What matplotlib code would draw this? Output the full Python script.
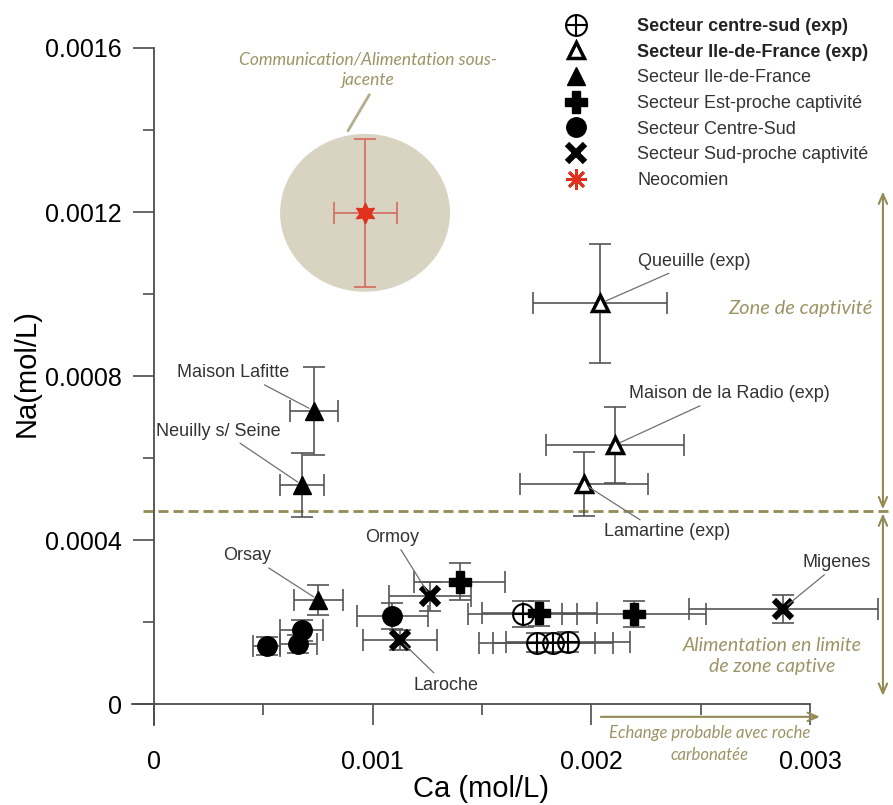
import matplotlib
matplotlib.use('Agg')
import matplotlib.pyplot as plt
from matplotlib.lines import Line2D
from matplotlib.patches import Ellipse
from matplotlib.legend_handler import HandlerTuple

plt.rcParams['font.family'] = ['Liberation Sans', 'DejaVu Sans']

# --- data (mol/L) ---
# Secteur centre-sud (exp)
cs_exp_ca = [0.001686, 0.001752, 0.001826, 0.001894]
cs_exp_na = [0.000220, 0.000150, 0.000150, 0.000152]
cs_exp_ca_err = [0.000250, 0.000264, 0.000274, 0.000284]
cs_exp_na_err = [0.000032, 0.000024, 0.000024, 0.000024]

# Secteur Ile-de-France (exp)
idf_exp_names = ['Queuille (exp)', 'Maison de la Radio (exp)', 'Lamartine (exp)']
idf_exp_ca = [0.002040, 0.002108, 0.001966]
idf_exp_na = [0.000977, 0.000632, 0.000537]
idf_exp_ca_err = [0.000305, 0.000316, 0.000292]
idf_exp_na_err = [0.000146, 0.000092, 0.000078]

# Secteur Ile-de-France
idf_names = ['Maison Lafitte', 'Neuilly s/ Seine', 'Orsay']
idf_ca = [0.000732, 0.000678, 0.000752]
idf_na = [0.000715, 0.000534, 0.000254]
idf_ca_err = [0.000110, 0.000100, 0.000111]
idf_na_err = [0.000107, 0.000078, 0.000037]

# Secteur Est-proche captivite
est_ca = [0.001399, 0.001762, 0.002195]
est_na = [0.000298, 0.000221, 0.000219]
est_ca_err = [0.000208, 0.000264, 0.000329]
est_na_err = [0.000045, 0.000030, 0.000032]

# Secteur Centre-Sud
cs_ca = [0.000515, 0.000675, 0.000660, 0.001090]
cs_na = [0.000142, 0.000180, 0.000146, 0.000215]
cs_ca_err = [0.000061, 0.000100, 0.000085, 0.000162]
cs_na_err = [0.000022, 0.000025, 0.000022, 0.000031]

# Secteur Sud-proche captivite
sud_names = ['Ormoy', 'Laroche', 'Migenes']
sud_ca = [0.001262, 0.001125, 0.002877]
sud_na = [0.000263, 0.000156, 0.000233]
sud_ca_err = [0.000187, 0.000169, 0.000432]
sud_na_err = [0.000036, 0.000024, 0.000034]

# Neocomien
neo_ca = [0.000965]
neo_na = [0.001198]
neo_ca_err = [0.000144]
neo_na_err = [0.000180]

na_limit = 0.00047
zone_top = 0.00125
zone_bottom = 0.00002

x_ticks = [0, 0.001, 0.002, 0.003]
x_ticklabels = ['0', '0.001', '0.002', '0.003']
x_minor = [0.0005, 0.0015, 0.0025]
y_ticks = [0, 0.0004, 0.0008, 0.0012, 0.0016]
y_ticklabels = ['0', '0.0004', '0.0008', '0.0012', '0.0016']
y_minor = [0.0002, 0.0006, 0.0010, 0.0014]

olive = '#948a54'
olive_txt = '#9d9466'
axcol = '#4d4d4d'

fig = plt.figure(figsize=(8.93, 8.05), dpi=100)
ax = fig.add_axes([0, 0, 1, 1])
ax.set_xlim(-0.000704, 0.003379)
ax.set_ylim(-0.000246, 0.001717)

for s in ['top', 'right']:
    ax.spines[s].set_visible(False)
ax.spines['left'].set_position(('data', 0))
ax.spines['bottom'].set_position(('data', 0))
ax.spines['left'].set_bounds(-0.00005, 0.0016)
ax.spines['bottom'].set_bounds(-0.0001, 0.003)
for s in ['left', 'bottom']:
    ax.spines[s].set_color(axcol)
    ax.spines[s].set_linewidth(1.3)

ax.set_xticks(x_ticks, x_ticklabels, fontsize=18)
ax.set_xticks(x_minor, minor=True)
ax.set_yticks(y_ticks, y_ticklabels, fontsize=18)
ax.set_yticks(y_minor, minor=True)
ax.tick_params(which='major', direction='out', length=15, width=1.2, color=axcol)
ax.tick_params(which='minor', direction='out', length=8, width=1.2, color=axcol)
ax.tick_params(axis='x', which='major', pad=18)
ax.tick_params(axis='y', which='major', pad=8)

ax.set_xlabel('Ca (mol/L)', fontsize=21, va='center')
ax.xaxis.set_label_coords(481 / 893, 1 - 789 / 805)
ax.set_ylabel('Na(mol/L)', fontsize=21, va='center')
ax.yaxis.set_label_coords(27 / 893, 1 - 373 / 805)

# Neocomien zone
ax.add_patch(Ellipse((neo_ca[0], neo_na[0]), 0.000777, 0.000385,
                     fc='#d9d4c2', ec='none', zorder=1))
ax.annotate('Communication/Alimentation sous-\njacente',
            xy=(0.000887, 0.001398), xycoords='data',
            xytext=(368 / 893, 1 - 70 / 805), textcoords='axes fraction',
            ha='center', va='center', multialignment='center',
            fontsize=12.5, family='Lato', style='italic', color=olive_txt,
            linespacing=1.35,
            arrowprops=dict(arrowstyle='-', color='#b5ae8e', lw=2,
                            relpos=(0.52, 0), shrinkA=3, shrinkB=0))

# limit line and zone arrows
ax.plot([-0.00005, 0.003379], [na_limit, na_limit], ls=(0, (3.6, 1.8)),
        color=olive, lw=2, zorder=2)
arrow_x = 0.003333
ax.annotate('', xy=(arrow_x, zone_top), xytext=(arrow_x, na_limit + 0.000005),
            arrowprops=dict(arrowstyle='<->,head_length=0.7,head_width=0.3',
                            color=olive, lw=1.5, shrinkA=0, shrinkB=0))
ax.annotate('', xy=(arrow_x, zone_bottom), xytext=(arrow_x, na_limit - 0.000005),
            arrowprops=dict(arrowstyle='<->,head_length=0.7,head_width=0.3',
                            color=olive, lw=1.5, shrinkA=0, shrinkB=0))
ax.annotate('', xy=(0.003045, -0.000031), xytext=(0.002043, -0.000031),
            arrowprops=dict(arrowstyle='->,head_length=0.7,head_width=0.3',
                            color=olive, lw=1.5, shrinkA=0, shrinkB=0))

zone_txt = dict(transform=ax.transAxes, ha='center', va='center', family='Lato',
                style='italic', color=olive_txt)
ax.text(800 / 893, 1 - 308 / 805, 'Zone de captivité', fontsize=14.5, **zone_txt)
ax.text(772 / 893, 1 - 656 / 805, 'Alimentation en limite\nde zone captive',
        multialignment='center', fontsize=14, linespacing=1.35, **zone_txt)
ax.text(710 / 893, 1 - 733 / 805, 'Echange probable avec roche', fontsize=12,
        **zone_txt)
ax.text(710 / 893, 1 - 755 / 805, 'carbonatée', fontsize=12, **zone_txt)

# error bars
eb = dict(fmt='none', ecolor='#555555', elinewidth=1.2, capsize=8, capthick=1.2, zorder=3)
ax.errorbar(cs_exp_ca, cs_exp_na, xerr=cs_exp_ca_err, yerr=cs_exp_na_err, **eb)
ax.errorbar(idf_exp_ca, idf_exp_na, xerr=idf_exp_ca_err, yerr=idf_exp_na_err, **eb)
ax.errorbar(idf_ca, idf_na, xerr=idf_ca_err, yerr=idf_na_err, **eb)
ax.errorbar(est_ca, est_na, xerr=est_ca_err, yerr=est_na_err, **eb)
ax.errorbar(cs_ca, cs_na, xerr=cs_ca_err, yerr=cs_na_err, **eb)
ax.errorbar(sud_ca, sud_na, xerr=sud_ca_err, yerr=sud_na_err, **eb)
ax.errorbar(neo_ca, neo_na, xerr=neo_ca_err, yerr=neo_na_err, fmt='none',
            ecolor='#d46a5e', elinewidth=1.2, capsize=8, capthick=1.2, zorder=3)

# markers
m_csexp_o = dict(ls='none', marker='o', ms=15, mfc='none', mec='k', mew=1.5)
m_csexp_p = dict(ls='none', marker='+', ms=15, mec='k', mew=1.5)
m_idfexp = dict(ls='none', marker='^', ms=12, mfc='white', mec='k', mew=2.5)
m_idf = dict(ls='none', marker='^', ms=13, color='k')
m_est = dict(ls='none', marker='P', ms=16, color='k', mec='k')
m_cs = dict(ls='none', marker='o', ms=14, color='k')
m_sud = dict(ls='none', marker='x', ms=13, mec='k', mew=4.5)
m_neo = dict(ls='none', marker=(6, 1, 0), ms=15, color='#e0301e')

ax.plot(cs_exp_ca, cs_exp_na, zorder=4, **m_csexp_o)
ax.plot(cs_exp_ca, cs_exp_na, zorder=4, **m_csexp_p)
ax.plot(idf_exp_ca, idf_exp_na, zorder=4, **m_idfexp)
ax.plot(idf_ca, idf_na, zorder=4, **m_idf)
ax.plot(est_ca, est_na, zorder=4, **m_est)
ax.plot(cs_ca, cs_na, zorder=4, **m_cs)
ax.plot(sud_ca, sud_na, zorder=4, **m_sud)
ax.plot(neo_ca, neo_na, zorder=4, **m_neo)

# point labels: offset of text from point in pixels (dx, dy down), alignment, leader start
label_layout = {
    'Queuille (exp)': ((38, -42), 'left', (0.34, 0)),
    'Maison de la Radio (exp)': ((14, -51), 'left', (0.39, 0)),
    'Lamartine (exp)': ((20, 48), 'left', (0.33, 1)),
    'Maison Lafitte': ((-137, -38), 'left', (0.72, 0)),
    'Neuilly s/ Seine': ((-146, -54), 'left', (0.63, 0)),
    'Orsay': ((-95, -44), 'left', (0.83, 0)),
    'Ormoy': ((-65, -59), 'left', (0.62, 0)),
    'Laroche': ((13, 45), 'left', (0.38, 1)),
    'Migenes': ((19, -46), 'left', (0.39, 0)),
}
for names, xs, ys in [(idf_exp_names, idf_exp_ca, idf_exp_na),
                      (idf_names, idf_ca, idf_na),
                      (sud_names, sud_ca, sud_na)]:
    for name, x, y in zip(names, xs, ys):
        (dx, dy), ha, rp = label_layout[name]
        ax.annotate(name, xy=(x, y), xytext=(dx * 0.72, -dy * 0.72),
                    textcoords='offset points', ha=ha, va='center',
                    fontsize=13, color='#333333', zorder=5,
                    arrowprops=dict(arrowstyle='-', color='#707070', lw=0.9,
                                    relpos=rp, shrinkA=1, shrinkB=4))

# legend
handles = [
    (Line2D([], [], **m_csexp_o), Line2D([], [], **m_csexp_p)),
    Line2D([], [], **m_idfexp),
    Line2D([], [], **m_idf),
    Line2D([], [], **m_est),
    Line2D([], [], **m_cs),
    Line2D([], [], **m_sud),
    Line2D([], [], **dict(m_neo, marker=(8, 2, 0), mew=2, mec='#e0301e')),
]
labels = ['Secteur centre-sud (exp)', 'Secteur Ile-de-France (exp)',
          'Secteur Ile-de-France', 'Secteur Est-proche captivité',
          'Secteur Centre-Sud', 'Secteur Sud-proche captivité', 'Neocomien']
leg = ax.legend(handles, labels, handler_map={tuple: HandlerTuple(ndivide=1, pad=0)},
                loc='upper left', bbox_to_anchor=(565 / 893, 1 - 18 / 805),
                frameon=False, fontsize=13, handlelength=1.2, handletextpad=2.8,
                labelspacing=0.48, borderpad=0, borderaxespad=0,
                labelcolor='#333333')
for t in leg.get_texts()[:2]:
    t.set_fontweight('bold')
    t.set_color('#222222')

fig.savefig('out.png', dpi=100)
